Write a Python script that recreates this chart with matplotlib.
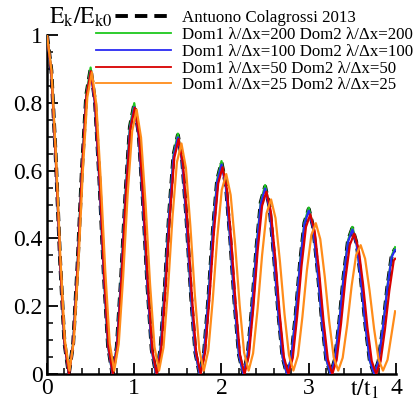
import matplotlib
matplotlib.use("Agg")
import matplotlib.pyplot as plt
from matplotlib.lines import Line2D
from matplotlib.ticker import MultipleLocator, FuncFormatter

# time samples t/t1 (reference, 200 and 100 runs)
t_grid = [0.00, 0.05, 0.10, 0.15, 0.20, 0.25, 0.30, 0.35, 0.40, 0.45,
          0.50, 0.55, 0.60, 0.65, 0.70, 0.75, 0.80, 0.85, 0.90, 0.95,
          1.00, 1.05, 1.10, 1.15, 1.20, 1.25, 1.30, 1.35, 1.40, 1.45,
          1.50, 1.55, 1.60, 1.65, 1.70, 1.75, 1.80, 1.85, 1.90, 1.95,
          2.00, 2.05, 2.10, 2.15, 2.20, 2.25, 2.30, 2.35, 2.40, 2.45,
          2.50, 2.55, 2.60, 2.65, 2.70, 2.75, 2.80, 2.85, 2.90, 2.95,
          3.00, 3.05, 3.10, 3.15, 3.20, 3.25, 3.30, 3.35, 3.40, 3.45,
          3.50, 3.55, 3.60, 3.65, 3.70, 3.75, 3.80, 3.85, 3.90, 3.95, 3.99]

antuono_e = [1.000, .895, .641, .335, .092, 0, .090, .321, .602, .823,
             .900, .805, .575, .300, .082, 0, .080, .286, .534, .729,
             .795, .711, .509, .265, .072, 0, .071, .253, .473, .646,
             .705, .630, .451, .235, .064, 0, .063, .224, .419, .572,
             .624, .558, .399, .208, .057, 0, .056, .198, .371, .507,
             .553, .494, .353, .184, .050, 0, .049, .175, .327, .446,
             .487, .435, .311, .162, .044, 0, .043, .154, .289, .394,
             .430, .384, .275, .143, .039, 0, .038, .136, .255, .348, .370]

e_200 = [1.000, .895, .641, .335, .092, 0, .090, .321, .602, .823,
         .904, .805, .575, .300, .082, 0, .080, .286, .534, .729,
         .799, .711, .509, .265, .072, 0, .071, .253, .473, .646,
         .709, .630, .451, .235, .064, 0, .063, .224, .419, .572,
         .628, .558, .399, .208, .057, 0, .056, .198, .371, .507,
         .557, .494, .353, .184, .050, 0, .049, .175, .327, .446,
         .491, .435, .311, .162, .044, 0, .043, .154, .289, .394,
         .434, .384, .275, .143, .039, 0, .038, .136, .255, .348, .374]

e_100 = [1.000, .886, .635, .332, .091, 0, .089, .318, .596, .815,
         .891, .797, .569, .297, .081, 0, .079, .283, .529, .722,
         .787, .704, .504, .262, .071, 0, .070, .250, .468, .640,
         .698, .624, .446, .233, .063, 0, .062, .222, .415, .566,
         .618, .552, .395, .206, .056, 0, .055, .196, .367, .502,
         .547, .489, .349, .182, .050, 0, .049, .173, .324, .442,
         .482, .431, .308, .160, .044, 0, .043, .152, .286, .390,
         .426, .380, .272, .142, .039, 0, .038, .135, .252, .345, .366]

t_50 = [0.000, 0.050, 0.101, 0.151, 0.201, 0.252, 0.302, 0.352, 0.402, 0.453,
        0.503, 0.553, 0.604, 0.654, 0.704, 0.755, 0.805, 0.855, 0.905, 0.956,
        1.006, 1.056, 1.107, 1.157, 1.207, 1.258, 1.308, 1.358, 1.408, 1.459,
        1.509, 1.559, 1.610, 1.660, 1.710, 1.761, 1.811, 1.861, 1.911, 1.962,
        2.012, 2.062, 2.113, 2.163, 2.213, 2.264, 2.314, 2.364, 2.414, 2.465,
        2.515, 2.565, 2.616, 2.666, 2.716, 2.767, 2.817, 2.867, 2.917, 2.968,
        3.018, 3.068, 3.119, 3.169, 3.219, 3.270, 3.320, 3.370, 3.420, 3.471,
        3.521, 3.571, 3.622, 3.672, 3.722, 3.773, 3.823, 3.873, 3.923, 3.974, 3.990]

e_50 = [1.000, .893, .639, .334, .092, 0, .090, .320, .600, .821,
        .893, .799, .571, .298, .081, 0, .079, .284, .530, .724,
        .785, .702, .503, .262, .071, 0, .070, .250, .467, .638,
        .693, .619, .443, .231, .063, 0, .062, .220, .412, .562,
        .610, .545, .390, .203, .056, 0, .055, .194, .363, .496,
        .538, .480, .343, .179, .049, 0, .048, .170, .318, .434,
        .471, .421, .301, .157, .043, 0, .042, .149, .280, .381,
        .414, .370, .265, .138, .038, 0, .037, .131, .245, .335, .340]

t_25 = [0.000, 0.051, 0.103, 0.154, 0.205, 0.257, 0.308, 0.360, 0.411, 0.462,
        0.514, 0.565, 0.616, 0.668, 0.719, 0.770, 0.822, 0.873, 0.924, 0.976,
        1.027, 1.078, 1.130, 1.181, 1.232, 1.284, 1.335, 1.387, 1.438, 1.489,
        1.541, 1.592, 1.643, 1.695, 1.746, 1.797, 1.849, 1.900, 1.951, 2.003,
        2.054, 2.105, 2.157, 2.208, 2.259, 2.311, 2.362, 2.414, 2.465, 2.516,
        2.568, 2.619, 2.670, 2.722, 2.773, 2.824, 2.876, 2.927, 2.978, 3.030,
        3.081, 3.132, 3.184, 3.235, 3.286, 3.338, 3.389, 3.441, 3.492, 3.543,
        3.595, 3.646, 3.697, 3.749, 3.800, 3.851, 3.903, 3.954, 3.990]

e_25 = [1.000, .896, .644, .341, .100, .010, .098, .325, .600, .816,
        .890, .796, .572, .303, .090, .010, .088, .287, .528, .716,
        .780, .697, .501, .266, .080, .010, .078, .252, .462, .625,
        .680, .608, .437, .232, .071, .010, .069, .220, .401, .543,
        .590, .528, .380, .203, .063, .010, .061, .192, .350, .474,
        .515, .460, .331, .177, .056, .010, .054, .168, .304, .410,
        .445, .398, .286, .154, .049, .010, .048, .145, .261, .351,
        .380, .340, .246, .133, .043, .010, .042, .126, .185]

labels = ["Antuono Colagrossi 2013",
          "Dom1 λ/Δx=200 Dom2 λ/Δx=200",
          "Dom1 λ/Δx=100 Dom2 λ/Δx=100",
          "Dom1 λ/Δx=50 Dom2 λ/Δx=50",
          "Dom1 λ/Δx=25 Dom2 λ/Δx=25"]
colors = ["black", "#1ec81e", "#2a2af2", "#d80000", "#ff8c1a"]

plt.rcParams["font.family"] = ["Liberation Serif", "DejaVu Serif"]
plt.rcParams["mathtext.fontset"] = "stix"

fig = plt.figure(figsize=(4.14, 4.03), dpi=100)
ax = fig.add_axes([47 / 414, 29 / 403, 349 / 414, 339 / 403])

ax.plot(t_grid, antuono_e, color=colors[0], lw=2.8, dashes=(2.4, 1.4), zorder=2)
ax.plot(t_grid, e_200, color=colors[1], lw=1.6, zorder=3)
ax.plot(t_grid, e_100, color=colors[2], lw=1.6, zorder=4)
ax.plot(t_50, e_50, color=colors[3], lw=1.6, zorder=5)
ax.plot(t_25, e_25, color=colors[4], lw=1.6, zorder=6)

ax.set_xlim(0, 4)
ax.set_ylim(0, 1)
for side in ["top", "right"]:
    ax.spines[side].set_visible(False)
for side in ["left", "bottom"]:
    ax.spines[side].set_linewidth(1.8)

ax.xaxis.set_major_locator(MultipleLocator(1))
ax.xaxis.set_minor_locator(MultipleLocator(0.2))
ax.yaxis.set_major_locator(MultipleLocator(0.2))
ax.yaxis.set_minor_locator(MultipleLocator(0.05))
fmt = FuncFormatter(lambda v, _: f"{v:g}")
ax.xaxis.set_major_formatter(fmt)
ax.yaxis.set_major_formatter(fmt)
ax.tick_params(which="both", direction="in", top=False, right=False)
ax.tick_params(which="major", length=8, width=1.3, labelsize=17, pad=3)
ax.tick_params(which="minor", length=4.5, width=1.1)

ax.text(3.64, -0.012, r"$\mathrm{t/t_1}$", ha="center", va="top", fontsize=17)

handles = [Line2D([], [], color=colors[0], lw=2.8, dashes=(3.2, 1.8))]
handles += [Line2D([], [], color=c, lw=1.3) for c in colors[1:]]
fig.legend(handles, labels, loc="upper left", bbox_to_anchor=(96 / 414, 1 - 10 / 403),
           frameon=False, fontsize=12.2, handlelength=4.4, handletextpad=0.7,
           labelspacing=0.05, borderaxespad=0, borderpad=0)

# y label sits over the start of the legend's dashed line
fig.text(49 / 414, 1 - 24 / 403, r"$\mathrm{E_k/E_{k0}}$", fontsize=17,
         va="baseline", ha="left", zorder=10,
         bbox=dict(facecolor="white", edgecolor="none", pad=0.5))

fig.savefig("out.png", dpi=100)
